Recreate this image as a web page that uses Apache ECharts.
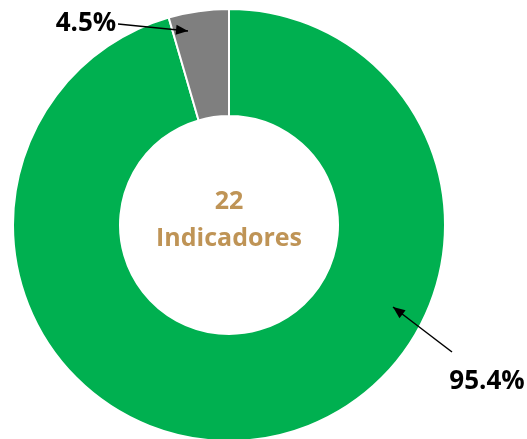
<!DOCTYPE html>
<html>
<head>
<meta charset="utf-8">
<style>
  html, body { margin: 0; padding: 0; background: #fff; }
  #chart { width: 527px; height: 439px; }
</style>
<script src="https://cdn.jsdelivr.net/npm/echarts@6/dist/echarts.min.js"></script>
</head>
<body>
<div id="chart"></div>
<script>
// data
const categories = ['Cumple', 'No cumple'];
const values = [95.4, 4.5];
const colors = ['#00B050', '#7F7F7F'];
const centerLines = ['22', 'Indicadores'];

// where each percent label sits and where its arrow points
const labelPos = [[487, 382], [86, 24]];
const arrows = [
    { from: [452, 352], to: [393, 307] },
    { from: [118, 24], to: [188, 31] }
];

function arrowHead(from, to) {
    const dx = to[0] - from[0], dy = to[1] - from[1];
    const len = Math.sqrt(dx * dx + dy * dy);
    const ux = dx / len, uy = dy / len;
    const bx = to[0] - ux * 12, by = to[1] - uy * 12;
    return [to, [bx - uy * 5, by + ux * 5], [bx + uy * 5, by - ux * 5]];
}

const graphics = [];
arrows.forEach(function (a) {
    graphics.push({
        type: 'line', z: 100,
        shape: { x1: a.from[0], y1: a.from[1], x2: a.to[0], y2: a.to[1] },
        style: { stroke: '#000', lineWidth: 1.5 }
    });
    graphics.push({
        type: 'polygon', z: 100,
        shape: { points: arrowHead(a.from, a.to) },
        style: { fill: '#000' }
    });
});
graphics.push({
    type: 'text', x: 229, y: 202, z: 100,
    style: { text: centerLines[0], fill: '#BF9456', font: 'bold 25px "Open Sans"', align: 'center', verticalAlign: 'middle' }
});
graphics.push({
    type: 'text', x: 229, y: 239, z: 100,
    style: { text: centerLines[1], fill: '#BF9456', font: 'bold 25px "Open Sans"', align: 'center', verticalAlign: 'middle' }
});

const myChart = echarts.init(document.getElementById('chart'));
myChart.setOption({
    animation: false,
    graphic: graphics,
    series: [
        {
            type: 'pie',
            center: [229, 225],
            radius: [109, 216],
            startAngle: 90,
            clockwise: true,
            itemStyle: {
                borderColor: '#fff',
                borderWidth: 2
            },
            label: {
                show: true,
                position: 'outside',
                formatter: '{c}%',
                color: '#000',
                fontFamily: 'Open Sans',
                fontWeight: 'bold',
                fontSize: 26
            },
            labelLine: { show: false },
            labelLayout: function (params) {
                const p = labelPos[params.dataIndex];
                return { x: p[0], y: p[1], align: 'center', verticalAlign: 'middle' };
            },
            data: categories.map(function (name, i) {
                return { name: name, value: values[i], itemStyle: { color: colors[i] } };
            })
        }
    ]
});
</script>
</body>
</html>
